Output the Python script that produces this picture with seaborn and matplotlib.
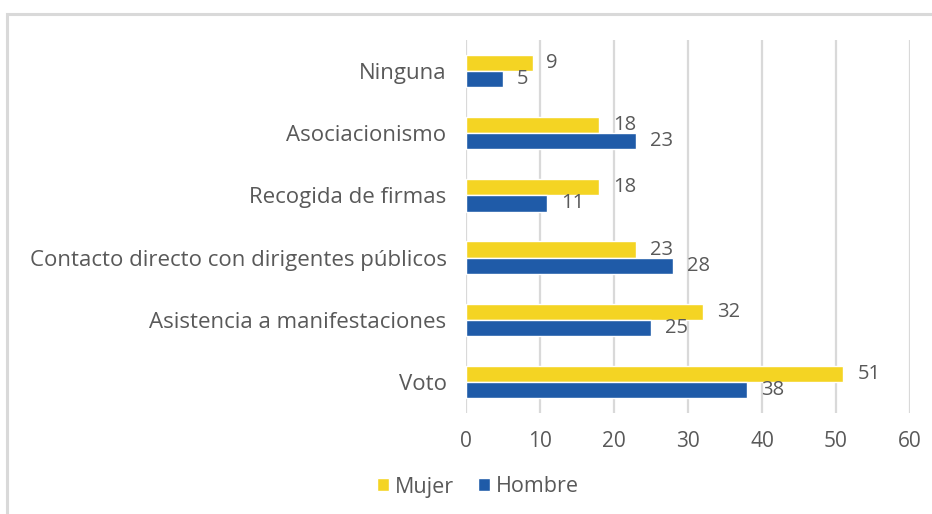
import pandas as pd
import matplotlib.pyplot as plt
import seaborn as sns
from matplotlib.patches import Rectangle

categories = [
    'Ninguna',
    'Asociacionismo',
    'Recogida de firmas',
    'Contacto directo con dirigentes públicos',
    'Asistencia a manifestaciones',
    'Voto',
]
mujer = [9, 18, 18, 23, 32, 51]
hombre = [5, 23, 11, 28, 25, 38]
series_names = ['Mujer', 'Hombre']
x_ticks = [0, 10, 20, 30, 40, 50, 60]

text_color = '#595959'
palette = {'Mujer': '#F4D423', 'Hombre': '#1F5BA8'}

df = pd.DataFrame({
    'categoria': categories * 2,
    'serie': [series_names[0]] * len(categories) + [series_names[1]] * len(categories),
    'valor': mujer + hombre,
})

sns.set_style('white')
plt.rcParams['font.family'] = ['Open Sans', 'DejaVu Sans']

fig = plt.figure(figsize=(9.32, 5.14), dpi=100)
ax = fig.add_axes([466 / 932, 1 - 413 / 514, 444 / 932, 373 / 514])

sns.barplot(data=df, y='categoria', x='valor', hue='serie', order=categories,
            hue_order=series_names, palette=palette, orient='h', width=0.52,
            saturation=1, ax=ax, legend=True)

for cont in ax.containers:
    ax.bar_label(cont, padding=10, fontsize=14.5, color=text_color)

ax.set_xlim(0, 60)
ax.set_ylim(5.5, -0.5)
ax.set_xticks(x_ticks)
ax.set_xlabel('')
ax.set_ylabel('')
ax.grid(axis='x', color='#D9D9D9', linewidth=1.6)
ax.set_axisbelow(True)
for s in ax.spines.values():
    s.set_visible(False)
ax.tick_params(axis='y', length=0, labelsize=16, labelcolor=text_color, pad=14)
ax.tick_params(axis='x', length=0, labelsize=15, labelcolor=text_color, pad=13)

handles, labels = ax.get_legend_handles_labels()
ax.get_legend().remove()
fig.legend(handles, labels, loc='center', bbox_to_anchor=(478 / 932, 1 - 487 / 514),
           ncol=2, frameon=False, fontsize=15.5, labelcolor=text_color,
           handlelength=0.55, handleheight=0.55, handletextpad=0.3, columnspacing=1.1)

# light frame around the chart area
fig.add_artist(Rectangle((7 / 932, -0.2), 1.2, 1.2 - 14 / 514, transform=fig.transFigure,
                         fill=False, edgecolor='#D9D9D9', linewidth=2.2))

fig.savefig('out.png', dpi=100)
